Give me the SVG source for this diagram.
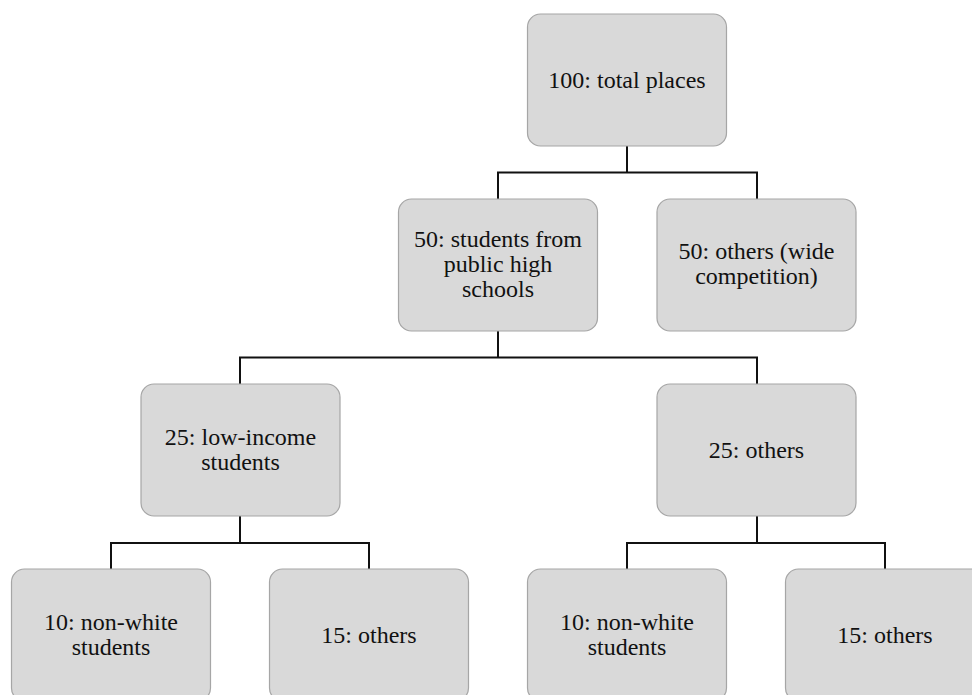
<svg xmlns="http://www.w3.org/2000/svg" width="972" height="695" viewBox="0 0 972 695">
<style>
.box{fill:#d9d9d9;stroke:#a6a6a6;stroke-width:1.2}
.t{font-family:"Liberation Serif","Times New Roman",serif;font-size:24px;fill:#111;text-anchor:middle}
.c{fill:none;stroke:#111;stroke-width:2}
</style>
<rect width="972" height="695" fill="#fff"/>
<g id="connectors">
<path class="c" d="M627 146V172.5M498 172.5H757M498 171.5V199M757 171.5V199"/>
<path class="c" d="M498 331V357.5M240 357.5H757M240 356.5V384M757 356.5V384"/>
<path class="c" d="M240 516V543M111 543H369M111 542V569M369 542V569"/>
<path class="c" d="M757 516V543M627 543H885M627 542V569M885 542V569"/>
</g>
<g id="n-total">
<rect class="box" x="527.5" y="14" width="199" height="132" rx="13"/>
<text class="t" x="627" y="88">100: total places</text>
</g>
<g id="n-public">
<rect class="box" x="398.5" y="199" width="199" height="132" rx="13"/>
<text class="t" x="498" y="247">50: students from</text>
<text class="t" x="498" y="272">public high</text>
<text class="t" x="498" y="297">schools</text>
</g>
<g id="n-wide">
<rect class="box" x="657" y="199" width="199" height="132" rx="13"/>
<text class="t" x="756.5" y="258.5">50: others (wide</text>
<text class="t" x="756.5" y="283.5">competition)</text>
</g>
<g id="n-lowincome">
<rect class="box" x="141" y="384" width="199" height="132" rx="13"/>
<text class="t" x="240.5" y="444.5">25: low-income</text>
<text class="t" x="240.5" y="469.5">students</text>
</g>
<g id="n-others25">
<rect class="box" x="657" y="384" width="199" height="132" rx="13"/>
<text class="t" x="756.5" y="458">25: others</text>
</g>
<g id="n-nonwhite1">
<rect class="box" x="11.5" y="569" width="199" height="132" rx="13"/>
<text class="t" x="111" y="629.5">10: non-white</text>
<text class="t" x="111" y="654.5">students</text>
</g>
<g id="n-others15a">
<rect class="box" x="269.5" y="569" width="199" height="132" rx="13"/>
<text class="t" x="369" y="643">15: others</text>
</g>
<g id="n-nonwhite2">
<rect class="box" x="527.5" y="569" width="199" height="132" rx="13"/>
<text class="t" x="627" y="629.5">10: non-white</text>
<text class="t" x="627" y="654.5">students</text>
</g>
<g id="n-others15b">
<rect class="box" x="785.5" y="569" width="199" height="132" rx="13"/>
<text class="t" x="885" y="643">15: others</text>
</g>
</svg>
